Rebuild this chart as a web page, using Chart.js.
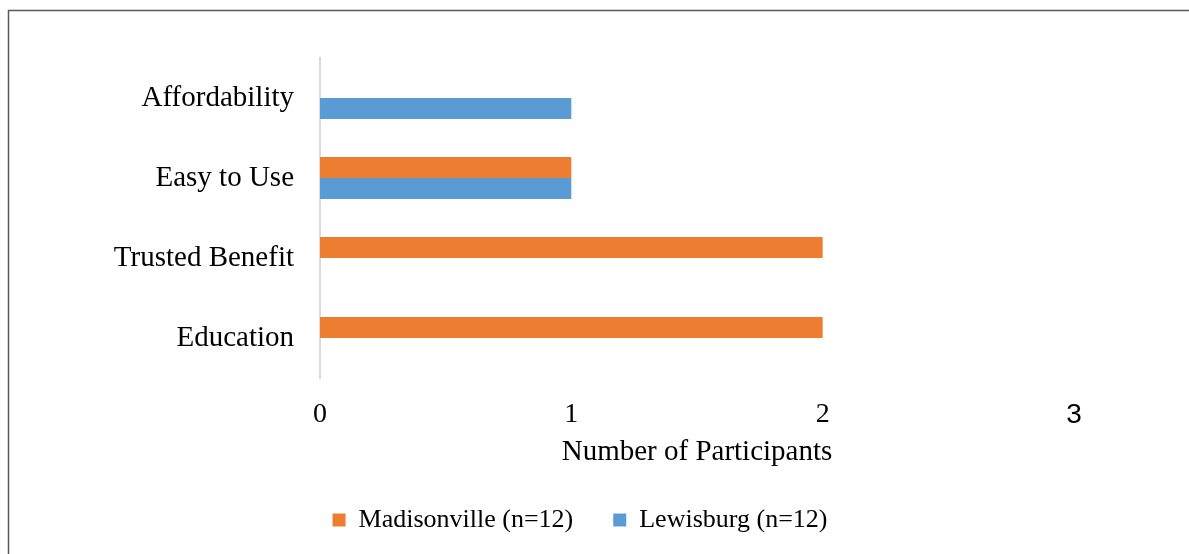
<!DOCTYPE html>
<html>
<head>
<meta charset="utf-8">
<script src="https://cdn.jsdelivr.net/npm/chart.js@4/dist/chart.umd.min.js"></script>
<style>
  html, body { margin: 0; padding: 0; background: #fff; }
  #wrap { position: absolute; left: 0; top: 0; width: 1189px; height: 554px; }
</style>
</head>
<body>
<div id="wrap"><canvas id="c" width="1189" height="554"></canvas></div>
<script>
const categories = ['Affordability', 'Easy to Use', 'Trusted Benefit', 'Education'];
const madisonville = [0, 1, 2, 2];
const lewisburg = [1, 1, 0, 0];
const seriesNames = ['Madisonville (n=12)', 'Lewisburg (n=12)'];
const xTicks = [0, 1, 2, 3];
const axisTitle = 'Number of Participants';

const SERIF = '"Liberation Serif", "Times New Roman", serif';
const SANS = '"Liberation Sans", Arial, sans-serif';

const frame = {
  id: 'frame',
  beforeDraw(chart) {
    const ctx = chart.ctx;
    ctx.save();
    ctx.fillStyle = '#fff';
    ctx.fillRect(0, 0, chart.width, chart.height);
    ctx.strokeStyle = '#5a5a5a';
    ctx.lineWidth = 1.5;
    ctx.beginPath();
    ctx.moveTo(8.5, chart.height);
    ctx.lineTo(8.5, 10.5);
    ctx.lineTo(chart.width, 10.5);
    ctx.stroke();
    ctx.restore();
  }
};

new Chart(document.getElementById('c'), {
  type: 'bar',
  data: {
    labels: categories,
    datasets: [
      { label: seriesNames[0], data: madisonville, backgroundColor: '#ED7D31', borderWidth: 0 },
      { label: seriesNames[1], data: lewisburg, backgroundColor: '#5B9BD5', borderWidth: 0 }
    ]
  },
  options: {
    indexAxis: 'y',
    responsive: false,
    animation: false,
    devicePixelRatio: 1,
    categoryPercentage: 0.525,
    barPercentage: 1,
    layout: { padding: { top: 58, left: 86, right: 115, bottom: 11 } },
    plugins: {
      tooltip: { enabled: false },
      legend: {
        position: 'bottom',
        align: 'center',
        labels: {
          boxWidth: 13,
          boxHeight: 13,
          padding: 40,
          color: '#000',
          font: { family: SERIF, size: 26 }
        }
      }
    },
    scales: {
      x: {
        min: 0,
        max: 3,
        afterBuildTicks(scale) { scale.ticks = xTicks.map(v => ({ value: v })); },
        afterFit(scale) { scale.height = 89; },
        grid: { display: false, drawTicks: false, tickLength: 0 },
        border: { display: false },
        ticks: {
          padding: 20,
          color: '#000',
          font: (ctx) => ({ family: (ctx.tick && ctx.tick.value === 3) ? SANS : SERIF, size: 28 })
        },
        title: {
          display: true,
          text: axisTitle,
          color: '#000',
          font: { family: SERIF, size: 29, lineHeight: 1 },
          padding: { top: 4, bottom: 0 }
        }
      },
      y: {
        afterFit(scale) { scale.width = 320 - 86; },
        grid: { display: false, drawTicks: false, tickLength: 0 },
        border: { display: true, color: '#d9d9d9', width: 2 },
        ticks: {
          padding: 26,
          color: '#000',
          font: { family: SERIF, size: 29 }
        }
      }
    }
  },
  plugins: [frame]
});
</script>
</body>
</html>
